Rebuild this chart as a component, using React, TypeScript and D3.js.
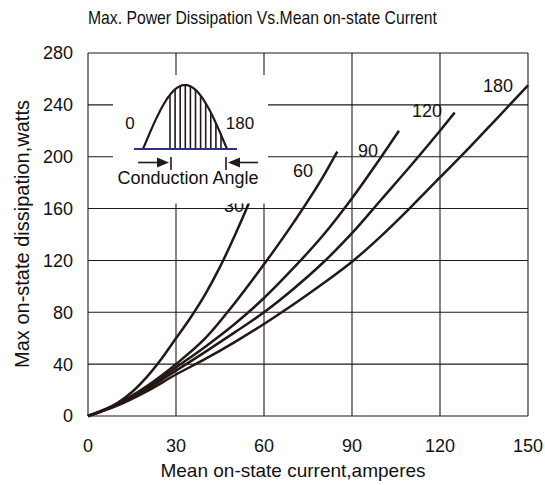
import * as d3 from "d3";

const W = 545;
const H = 485;
const M = { top: 53, right: 17, bottom: 69, left: 88 };

// current (A) vs. dissipation (W), one array per conduction angle
const curve30: [number, number][] = [
  [0, 0], [5, 4], [10, 10], [15, 18.5], [20, 30], [25, 44], [30, 60], [35, 76], [40, 94], [45, 115], [50, 139], [55, 165], [58, 182],
];
const curve60: [number, number][] = [
  [0, 0], [10, 9.5], [20, 23], [30, 40], [40, 60], [50, 87], [60, 117], [70, 149], [80, 184], [85, 204],
];
const curve90: [number, number][] = [
  [0, 0], [10, 9], [20, 21.5], [30, 37.5], [40, 53.5], [50, 71], [60, 91], [70, 114], [80, 139], [90, 168], [100, 200], [106, 220],
];
const curve120: [number, number][] = [
  [0, 0], [10, 8.5], [20, 20.5], [30, 35], [40, 49.5], [50, 64.5], [60, 80], [70, 98], [80, 118], [90, 141], [100, 167], [110, 193], [120, 220], [125, 234],
];
const curve180: [number, number][] = [
  [0, 0], [10, 8], [20, 19], [30, 32], [40, 44], [50, 57], [60, 71], [70, 86], [80, 102], [90, 119], [100, 139], [110, 161], [120, 184], [130, 207], [140, 231], [150, 255],
];

const ANGLES = ["30", "60", "90", "120", "180"];
const SERIES = [curve30, curve60, curve90, curve120, curve180];
// where each angle label sits, in data units
const LABEL_AT: [number, number][] = [
  [49.8, 157.5], [73.3, 184.4], [95.5, 199.8], [115.6, 230.6], [139.8, 249.9],
];

const X_TICKS = [0, 30, 60, 90, 120, 150];
const Y_TICKS = [0, 40, 80, 120, 160, 200, 240, 280];

const INK = "#231815";
const FONT = "'Liberation Sans', Arial, sans-serif";

export default function App() {
  const x = d3.scaleLinear().domain([0, 150]).range([M.left, W - M.right]);
  const y = d3.scaleLinear().domain([0, 280]).range([H - M.bottom, M.top]);

  const line = d3
    .line<[number, number]>()
    .x((d) => x(d[0]))
    .y((d) => y(d[1]))
    .curve(d3.curveMonotoneX);

  // inset sketch (half sine with shaded conduction part)
  const base = 149;
  const s0 = 143;
  const s1 = 227;
  const amp = 64;
  const sineY = (px: number) => base - amp * Math.sin((Math.PI * (px - s0)) / (s1 - s0));
  const sinePts = d3.range(s0, s1 + 0.5, 1).map((px) => [px, sineY(px)] as [number, number]);
  const sinePath = d3.line()(sinePts) || "";
  const hatch = d3.range(170, 226, 5.1);

  return (
    <svg width={W} height={H} style={{ position: "absolute", left: 0, top: 0 }} fontFamily={FONT}>
      <rect width={W} height={H} fill="#fff" />
      <text
        x={88}
        y={24}
        fontSize={19}
        fontFamily="'Liberation Sans Narrow', 'Arial Narrow', 'Liberation Sans', sans-serif"
        textLength={349}
        lengthAdjust="spacingAndGlyphs"
        fill="#111"
      >
        Max. Power Dissipation Vs.Mean on-state Current
      </text>

      {/* grid */}
      <g stroke={INK} strokeWidth={1.1}>
        {Y_TICKS.map((t) => (
          <line key={"h" + t} x1={x(0)} x2={x(150)} y1={y(t)} y2={y(t)} />
        ))}
        {X_TICKS.map((t) => (
          <line key={"v" + t} x1={x(t)} x2={x(t)} y1={y(0)} y2={y(280)} />
        ))}
      </g>

      {/* tick labels */}
      <g fontSize={18} fill="#111">
        {X_TICKS.map((t) => (
          <text key={"xt" + t} x={x(t)} y={451.5} textAnchor="middle">
            {t}
          </text>
        ))}
        {Y_TICKS.map((t) => (
          <text key={"yt" + t} x={73} y={y(t)} dy="0.36em" textAnchor="end">
            {t}
          </text>
        ))}
      </g>

      <text x={293} y={477} fontSize={19} textAnchor="middle" fill="#111">
        Mean on-state current,amperes
      </text>
      <text
        transform={`translate(29,234) rotate(-90)`}
        fontSize={20}
        textAnchor="middle"
        fill="#111"
      >
        Max on-state dissipation,watts
      </text>

      {/* curves */}
      {SERIES.map((s, i) => (
        <path key={ANGLES[i]} d={line(s) || ""} fill="none" stroke={INK} strokeWidth={2.5} />
      ))}
      {ANGLES.map((a, i) => (
        <text
          key={"l" + a}
          x={x(LABEL_AT[i][0])}
          y={y(LABEL_AT[i][1])}
          fontSize={18}
          textAnchor="middle"
          fill="#111"
        >
          {a}
        </text>
      ))}

      {/* inset */}
      <rect x={113} y={75} width={155} height={128.5} fill="#fff" />
      <g stroke={INK} strokeWidth={1.6}>
        {hatch.map((hx) => (
          <line key={hx} x1={hx} x2={hx} y1={base} y2={sineY(hx)} />
        ))}
      </g>
      <path d={sinePath} fill="none" stroke={INK} strokeWidth={2.2} />
      <line x1={134} x2={237} y1={base} y2={base} stroke="#2b2f8f" strokeWidth={2} />
      <text x={130} y={123} dy="0.36em" fontSize={17} textAnchor="middle" fill="#111">
        0
      </text>
      <text x={240} y={123} dy="0.36em" fontSize={17} textAnchor="middle" fill="#111">
        180
      </text>
      <g stroke={INK} strokeWidth={1.6}>
        <line x1={138} x2={160} y1={162.5} y2={162.5} />
        <line x1={171} x2={171} y1={157} y2={170} />
        <line x1={236} x2={258} y1={162.5} y2={162.5} />
        <line x1={226} x2={226} y1={157} y2={170} />
      </g>
      <path d="M169,162.5 L157,157.5 L157,167.5 Z" fill={INK} />
      <path d="M228,162.5 L240,157.5 L240,167.5 Z" fill={INK} />
      <text x={188} y={184} fontSize={18} textAnchor="middle" fill="#111">
        Conduction Angle
      </text>
    </svg>
  );
}
